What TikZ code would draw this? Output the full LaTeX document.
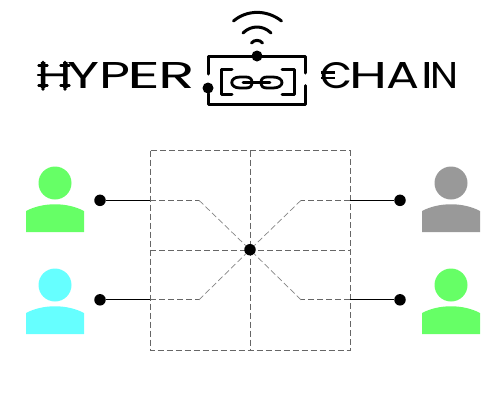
\documentclass[tikz,border=0pt]{standalone}
\usepackage{fontspec}
\usepackage{graphicx}
\newfontfamily\logofont{Poppins}
\definecolor{pgreen}{HTML}{66FF66}
\definecolor{pcyan}{HTML}{66FFFF}
\definecolor{pgray}{HTML}{999999}
\definecolor{griddash}{HTML}{666666}
\tikzset{
  x=1pt,y=-1pt,
  griddashed/.style={draw=griddash,line width=0.9pt,dash pattern=on 6pt off 3pt},
  crossdashed/.style={griddashed,draw=griddash!80,line width=0.7pt,line join=round},
  solidlink/.style={draw=black,line width=1.2pt},
  terminal/.style={circle,fill=black,inner sep=0pt,minimum size=11.5pt},
  logoline/.style={draw=black,line width=3pt,line cap=round,line join=round},
  wordmark/.style={inner sep=0pt,anchor=north west},
  logotick/.style={draw=black,line width=2.4pt,line cap=round},
}
\newcommand{\personicon}[3]{%
  \fill[#3] (#1,#2-20) circle[radius=16.5];
  \fill[#3] (#1-29,#2+29) -- (#1-29,#2+8) .. controls (#1-12,#2-1) and (#1+12,#2-1) .. (#1+29,#2+8) -- (#1+29,#2+29) -- cycle;
}
\newcommand{\logoletter}[3]{\makebox[0pt][l]{\hspace*{#1pt}\resizebox{#2pt}{26pt}{#3}}}
\begin{document}
\begin{tikzpicture}
\useasboundingbox (0,0) rectangle (500,400);
% grid
\coordinate (gTL) at (150,150.5);
\coordinate (gBR) at (350,350);
\draw[griddashed] (gTL) rectangle (gBR);
\coordinate (gT) at (250,150.5);
\coordinate (gB) at (250,350);
\coordinate (gL) at (150,250);
\coordinate (gR) at (350,250);
\draw[griddashed] (gT) -- (gB);
\draw[griddashed] (gL) -- (gR);
% terminals
\node[terminal] (t1) at (100,200.3) {};
\node[terminal] (t2) at (100,299.8) {};
\node[terminal] (t3) at (400,200.3) {};
\node[terminal] (t4) at (400,299.8) {};
\node[terminal] (hub) at (250,249.7) {};
\coordinate (e1) at (150,200.3);
\coordinate (e2) at (150,299.8);
\coordinate (e3) at (350,200.3);
\coordinate (e4) at (350,299.8);
\draw[solidlink] (t1) -- (e1);
\draw[solidlink] (t2) -- (e2);
\draw[solidlink] (t3) -- (e3);
\draw[solidlink] (t4) -- (e4);
\draw[griddashed] (e1) -- (199,200.3);
\draw[griddashed] (e2) -- (199,299.8);
\draw[griddashed] (e3) -- (301,200.3);
\draw[griddashed] (e4) -- (301,299.8);
\draw[crossdashed] (199,200.3) -- (hub);
\draw[crossdashed] (199,299.8) -- (hub);
\draw[crossdashed] (301,200.3) -- (hub);
\draw[crossdashed] (301,299.8) -- (hub);
% people
\personicon{55}{203}{pgreen}
\personicon{55}{305}{pcyan}
\personicon{451}{203}{pgray}
\personicon{451}{305}{pgreen}
% wordmark
\node[wordmark] (hyper) at (37,62.7) {\logofont\logoletter{0}{34.5}{H}\logoletter{30.2}{32}{Y}\logoletter{62}{31}{P}\logoletter{90.5}{33}{E}\logoletter{121}{36.5}{R}\hspace*{155pt}};
\node[wordmark] (chain) at (320,62.7) {\logofont\logoletter{0.5}{32}{C}\logoletter{29.5}{38}{H}\logoletter{66.5}{33}{A}\logoletter{101.5}{11.7}{I}\logoletter{110.5}{28}{N}\hspace*{135pt}};
% H decoration
\draw[logotick] (38.5,65.5) -- (47.5,65.5) (38.5,85.5) -- (47.5,85.5) (60.5,65.5) -- (69.5,65.5) (60.5,85.5) -- (69.5,85.5);
\draw[logotick] (38,75) -- (66,75);
\fill (43,62.5) circle[radius=1.9] (43,89) circle[radius=1.9] (65,62.5) circle[radius=1.9] (65,89) circle[radius=1.9];
% euro bars
\draw[line width=2.2pt] (321,72.5) -- (335,72.5) (321,77.8) -- (335,77.8);
% logo frame
\node[terminal,minimum size=11pt] (lt) at (257,56) {};
\node[terminal,minimum size=11pt] (ll) at (208,88) {};
\draw[logoline] (208,74) -- (208,56.5) -- (305.5,56.5) -- (305.5,73);
\draw[logoline] (305.5,85.5) -- (305.5,104) -- (208,104) -- (ll);
\draw[logoline] (232,69) -- (221,69) -- (221,94) -- (232,94);
\draw[logoline] (282,69) -- (294,69) -- (294,94) -- (282,94);
% chain links
\draw[logoline,line width=2.8pt] (252,82.5) .. controls (252,79) and (250,77) .. (246,77) -- (240,77) .. controls (229,77) and (229,88) .. (240,88) -- (246,88) .. controls (250,88) and (252,86) .. (252,84);
\draw[logoline,line width=2.8pt] (261,82.5) .. controls (261,79) and (263,77) .. (267,77) -- (273,77) .. controls (285,77) and (285,88) .. (273,88) -- (267,88) .. controls (263,88) and (261,86) .. (261,84);
\draw[logoline,line width=2.6pt] (243,82.5) -- (270,82.5);
% wifi
\draw[logoline] (233.5,21) .. controls (247,9.5) and (267,9.5) .. (281.5,21);
\draw[logoline] (243,33) .. controls (251,25) and (263,25) .. (271,33);
\draw[logoline] (251.5,43) .. controls (254,39.5) and (260,39.5) .. (262.5,43);
\end{tikzpicture}
\end{document}
